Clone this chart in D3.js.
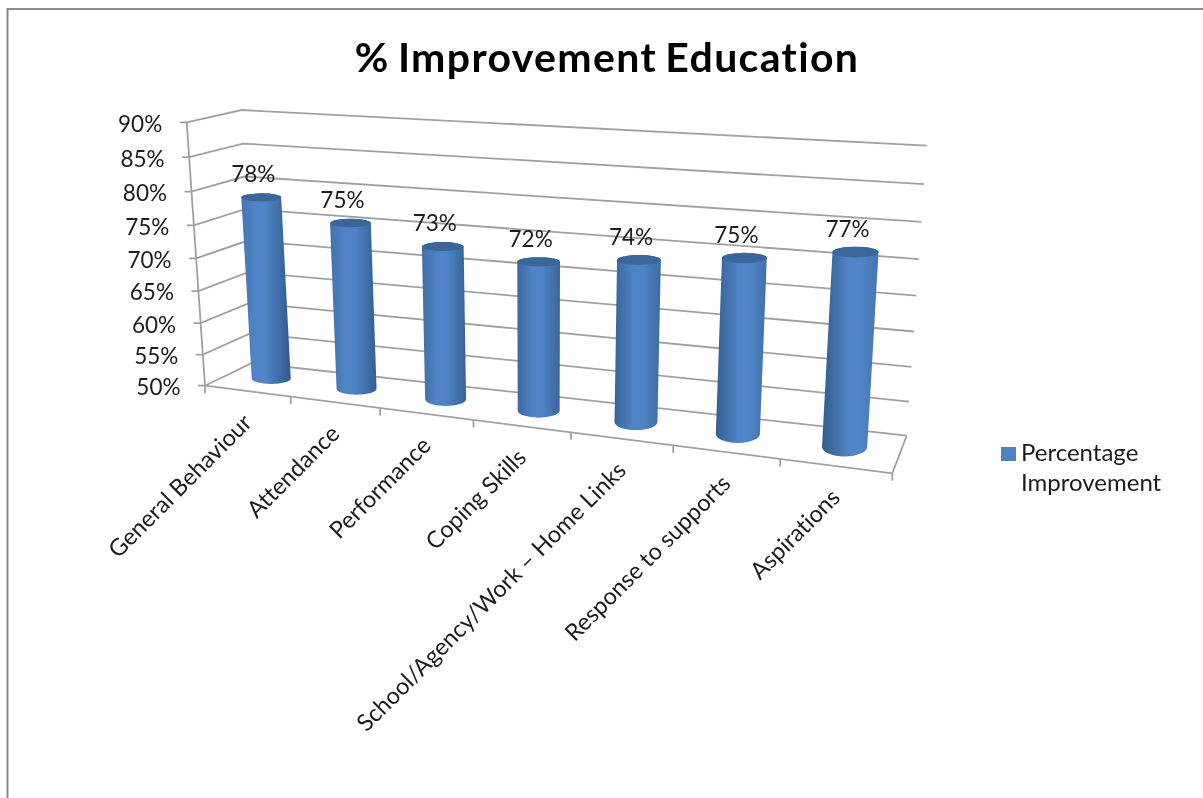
<!DOCTYPE html>
<html>
<head>
<meta charset="utf-8">
<script src="https://cdn.jsdelivr.net/npm/d3@7"></script>
<style>
  html, body { margin: 0; padding: 0; background: #fff; }
  svg { display: block; filter: blur(0.45px); }
  text { font-family: Lato, "Open Sans", sans-serif; fill: #1c1c1c; font-variant-ligatures: none; }
</style>
</head>
<body>
<div id="plot"></div>
<script>
// chart data
const categories = ["General Behaviour", "Attendance", "Performance", "Coping Skills",
    "School/Agency/Work \u2013 Home Links", "Response to supports", "Aspirations"];
const values = [78, 75.3, 73, 72, 73.5, 75, 77]; // labels show these rounded
const yTicks = [50, 55, 60, 65, 70, 75, 80, 85, 90];
const seriesName = ["Percentage", "Improvement"];
const chartTitle = "% Improvement Education";

const w = 1203;
const h = 798;

// corners of the 3d box
const frontLeft = [205, 385.7];
const frontRight = [892.3, 473.3];
const backLeft = [252, 363];
const backRight = [906.7, 435.7];
const sideTop = [186.7, 122.3];
const backLeftTop = [241.7, 110];
const backRightTop = [926.7, 145.7];

// perspective squeeze along an axis
const squeeze = (t, r) => t / (t + r * (1 - t));

const xBand = d3.scaleBand().domain(categories).range([0, 1]);
const xPersp = t => squeeze(t, 1.17);
const yScale = d3.scaleLinear().domain([50, 90]).range([0, 1]);
const yPersp = v => squeeze(yScale(v), 1.07);

const lerp = (a, b, t) => [a[0] + (b[0] - a[0]) * t, a[1] + (b[1] - a[1]) * t];

const svg = d3.select("div#plot").append("svg")
    .attr("width", w)
    .attr("height", h);

svg.append("rect")
    .attr("width", w)
    .attr("height", h)
    .attr("fill", "#fff");

// outer chart border
svg.append("path")
    .attr("d", "M7.5,798V9H1203")
    .attr("fill", "none")
    .attr("stroke", "#8a8a8a")
    .attr("stroke-width", 2);

svg.append("text")
    .attr("x", 607)
    .attr("y", 71.5)
    .attr("text-anchor", "middle")
    .attr("font-weight", 700)
    .attr("font-size", 41)
    .attr("letter-spacing", 1.35)
    .attr("word-spacing", -3)
    .style("fill", "#000")
    .text(chartTitle);

const gridColor = "#a0a0a0";
const walls = svg.append("g")
    .attr("fill", "none")
    .attr("stroke", gridColor)
    .attr("stroke-width", 1.8);

// gridlines: side wall then back wall
walls.selectAll("path.grid")
    .data(yTicks)
    .join("path")
    .attr("class", "grid")
    .attr("d", d => {
      const t = yPersp(d);
      const a = lerp(frontLeft, sideTop, t);
      const b = lerp(backLeft, backLeftTop, t);
      const c = lerp(backRight, backRightTop, t);
      return d3.line()([[a[0] - 7, a[1]], a, b, c]);
    });

// value axis, floor front edge and right floor edge
walls.append("path").attr("d", d3.line()([sideTop, frontLeft]));
walls.append("path").attr("d", d3.line()([frontLeft, frontRight, backRight]));

// category ticks
walls.selectAll("path.xtick")
    .data(d3.range(categories.length + 1))
    .join("path")
    .attr("class", "xtick")
    .attr("d", i => {
      const p = lerp(frontLeft, frontRight, xPersp(i / categories.length));
      return d3.line()([p, [p[0], p[1] + 7.5]]);
    });

// value tick labels
svg.selectAll("text.ylabel")
    .data(yTicks)
    .join("text")
    .attr("class", "ylabel")
    .attr("x", d => lerp(frontLeft, sideTop, yPersp(d))[0] - 24.5)
    .attr("y", d => lerp(frontLeft, sideTop, yPersp(d))[1] + 1.5)
    .attr("dy", "0.35em")
    .attr("text-anchor", "end")
    .attr("font-size", 22.5)
    .text(d => d + "%");

// cylinders
const barDepth = 0.53;
const rxScale = d3.scaleLinear().domain([0, 1]).range([19.3, 22.9]);
const ryTop = d3.scaleLinear().domain([0, 1]).range([4, 5.5]);
const ryBase = d3.scaleLinear().domain([0, 1]).range([5, 10]);
const riseX = d3.scaleLinear().domain([0, 1]).range([-16.8, 19.5]);
const riseY = d3.scaleLinear().domain([0, 1]).range([-262, -298]);
const highlight = d3.scaleLinear().domain([0, 1]).range([0.38, 0.62]);

const bars = categories.map((c, i) => {
  const s = xPersp(xBand(c) + xBand.bandwidth() / 2);
  const front = lerp(frontLeft, frontRight, s);
  const back = lerp(backLeft, backRight, s);
  const base = lerp(front, back, barDepth);
  const t = yPersp(values[i]);
  const top = [base[0] + riseX(s) * t, base[1] + riseY(s) * t];
  return {name: c, value: values[i], s: s, base: base, top: top};
});

const defs = svg.append("defs");
const grads = defs.selectAll("linearGradient")
    .data(bars)
    .join("linearGradient")
    .attr("id", (d, i) => "cyl" + i);
grads.append("stop").attr("offset", 0).attr("stop-color", d => d3.interpolateRgb("#4677b4", "#2f5889")(d.s));
grads.append("stop").attr("offset", d => highlight(d.s) - 0.12).attr("stop-color", "#5084c6");
grads.append("stop").attr("offset", d => highlight(d.s) + 0.1).attr("stop-color", "#5084c6");
grads.append("stop").attr("offset", 1).attr("stop-color", d => d3.interpolateRgb("#2f5889", "#4677b4")(d.s));

const cyl = svg.append("g").selectAll("g")
    .data(bars)
    .join("g");

cyl.append("path")
    .attr("fill", (d, i) => `url(#cyl${i})`)
    .attr("d", d => {
      const r = rxScale(d.s);
      const rt = r + 0.4;
      return `M${d.top[0] - rt},${d.top[1]}`
        + `L${d.base[0] - r},${d.base[1]}`
        + `A${r},${ryBase(d.s)} 0 0 0 ${d.base[0] + r},${d.base[1]}`
        + `L${d.top[0] + rt},${d.top[1]}`
        + `A${rt},${ryTop(d.s)} 0 0 0 ${d.top[0] - rt},${d.top[1]}Z`;
    });

cyl.append("ellipse")
    .attr("cx", d => d.top[0])
    .attr("cy", d => d.top[1])
    .attr("rx", d => rxScale(d.s) + 0.4)
    .attr("ry", d => ryTop(d.s))
    .attr("fill", "#3b6699");

// data labels
svg.selectAll("text.val")
    .data(bars)
    .join("text")
    .attr("class", "val")
    .attr("x", d => d.top[0] - 8)
    .attr("y", d => d.top[1] - 23)
    .attr("dy", "0.35em")
    .attr("text-anchor", "middle")
    .attr("font-size", 22.5)
    .text(d => Math.round(d.value) + "%");

// category labels
svg.selectAll("text.cat")
    .data(bars)
    .join("text")
    .attr("class", "cat")
    .attr("text-anchor", "end")
    .attr("font-size", 23.5)
    .attr("transform", d => {
      const p = lerp(frontLeft, frontRight, d.s);
      return `translate(${p[0] + 6},${p[1] + 33}) rotate(-45)`;
    })
    .text(d => d.name);

// legend
svg.append("rect")
    .attr("x", 1001)
    .attr("y", 447)
    .attr("width", 15)
    .attr("height", 14)
    .attr("fill", "#4f81bd");

svg.selectAll("text.legend")
    .data(seriesName)
    .join("text")
    .attr("class", "legend")
    .attr("x", 1021)
    .attr("y", (d, i) => 461 + i * 30)
    .attr("font-size", 24)
    .text(d => d);
</script>
</body>
</html>
